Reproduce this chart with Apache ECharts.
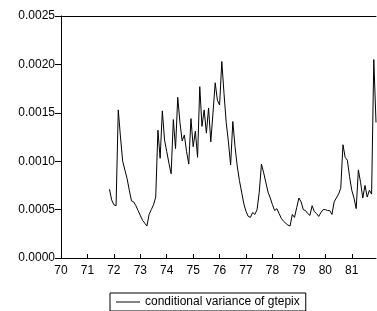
<!DOCTYPE html>
<html><head><meta charset="utf-8">
<script src="https://cdn.jsdelivr.net/npm/echarts@6/dist/echarts.min.js"></script>
<style>html,body{margin:0;padding:0;background:#fff}#c{width:377px;height:311px}</style>
</head><body><div id="c"></div>
<script>
// Monthly observations 1970M01..1981M12; series begins at 1971M11
var years = ["70","71","72","73","74","75","76","77","78","79","80","81"];
var seriesName = "conditional variance of gtepix";
var firstMonthIndex = 22;
var condVar = [
 0.00071,0.00060,0.00055,0.00054,0.00153,0.00125,0.00100,0.00091,0.00082,0.00070,
 0.00059,0.00058,0.00054,0.00049,0.00044,0.00039,0.00036,0.00033,0.00045,0.00050,
 0.00055,0.00063,0.00132,0.00103,0.00152,0.00122,0.00110,0.00098,0.00087,0.00143,
 0.00113,0.00166,0.00140,0.00121,0.00127,0.00110,0.00097,0.00144,0.00115,0.00131,
 0.00104,0.00177,0.00136,0.00153,0.00129,0.00155,0.00120,0.00150,0.00181,0.00163,
 0.00158,0.00203,0.00170,0.00140,0.00120,0.00096,0.00141,0.00115,0.00095,0.00080,
 0.00068,0.00056,0.00048,0.00043,0.00042,0.00047,0.00045,0.00050,0.00068,0.00097,
 0.00088,0.00078,0.00068,0.00062,0.00055,0.00049,0.00051,0.00046,0.00041,0.00038,
 0.00036,0.00034,0.00033,0.00045,0.00042,0.00052,0.00062,0.00058,0.00050,0.00049,
 0.00046,0.00044,0.00054,0.00048,0.00046,0.00043,0.00047,0.00050,0.00050,0.00049,
 0.00049,0.00045,0.00058,0.00062,0.00066,0.00072,0.00117,0.00104,0.00101,0.00084,
 0.00070,0.00062,0.00051,0.00091,0.00078,0.00062,0.00075,0.00063,0.00070,0.00066,
 0.00205,0.00140
];
var months = [];
years.forEach(function(y){ for (var m=1;m<=12;m++) months.push(y + "M" + (m<10?"0":"") + m); });
var seriesData = months.map(function(_, i){
  var k = i - firstMonthIndex;
  return (k >= 0 && k < condVar.length) ? condVar[k] : null;
});
var font = "'Liberation Sans', Arial, sans-serif";
var chart = echarts.init(document.getElementById('c'), null, {renderer:'canvas'});
chart.setOption({
  animation:false,
  backgroundColor:'#fff',
  grid:{left:61, right:1, top:16, bottom:53, show:false},
  legend:{
    bottom:0, left:110, width:217,
    data:[seriesName], icon:'path://M0,0H1V0.04H0Z', itemWidth:24, itemHeight:10, itemGap:4,
    borderColor:'#000', borderWidth:1, padding:[3,6,3,6],
    textStyle:{fontFamily:font, fontSize:12, color:'#000'}
  },
  xAxis:[{
    type:'category', data:months, boundaryGap:false,
    axisLine:{lineStyle:{color:'#000', width:1}},
    axisTick:{inside:true, length:4, lineStyle:{color:'#000'}, interval:function(i){return i%12===0;}},
    axisLabel:{interval:function(i){return i%12===0;}, formatter:function(v){return v.slice(0,2);}, fontFamily:font, fontSize:12, color:'#000', margin:7},
    splitLine:{show:false}
  },{
    type:'category', data:months, boundaryGap:false, position:'top',
    axisLine:{show:true, lineStyle:{color:'#000', width:1}},
    axisTick:{show:false}, axisLabel:{show:false}, splitLine:{show:false}
  }],
  yAxis:{
    type:'value', min:0, max:0.0025, interval:0.0005,
    axisLine:{show:true, lineStyle:{color:'#000'}},
    axisTick:{show:true, length:6, lineStyle:{color:'#000'}},
    axisLabel:{formatter:function(v){return v.toFixed(4);}, fontFamily:font, fontSize:12, color:'#000', margin:6},
    splitLine:{show:false}
  },
  series:[{
    name:seriesName, type:'line', data:seriesData, showSymbol:false, symbol:'none',
    lineStyle:{color:'#000', width:1}, itemStyle:{color:'#000'}, connectNulls:false
  }]
});
</script></body></html>
